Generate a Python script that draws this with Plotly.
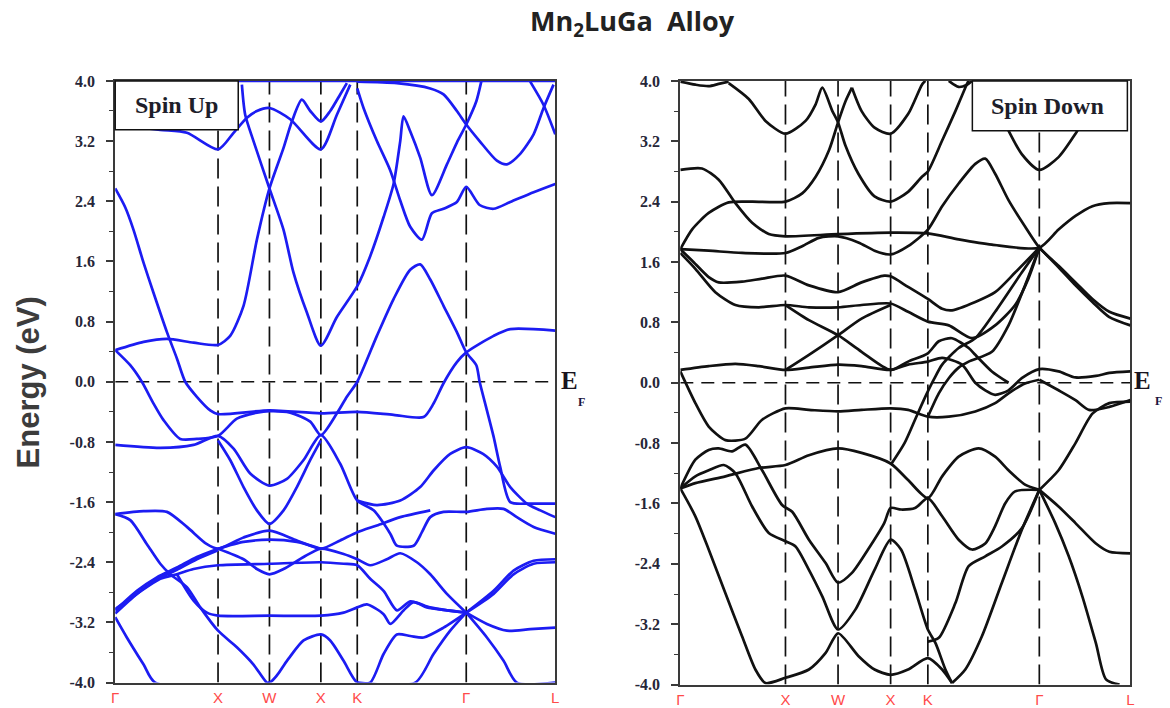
import plotly.graph_objects as go

# ---------------------------------------------------------------- axes data
K_POS = [0.0, 1.0, 1.5, 2.0, 2.354, 3.414, 4.28]
K_LAB = ["Γ", "X", "W", "X", "K", "Γ", "L"]
E_MAJOR = [-4.0, -3.2, -2.4, -1.6, -0.8, 0.0, 0.8, 1.6, 2.4, 3.2, 4.0]
E_MINOR = [-3.6, -2.8, -2.0, -1.2, -0.4, 0.4, 1.2, 2.0, 2.8, 3.6]
E_LAB = ["-4.0", "-3.2", "-2.4", "-1.6", "-0.8", "0.0", "0.8", "1.6", "2.4", "3.2", "4.0"]

# ---------------------------------------------------------- spin-up bands
up_top_k = [0.0, 4.28]
up_top_e = [4.0, 4.0]

up_01_k = [0, 0.276, 0.503, 0.762, 1.0, 1.118, 1.248, 1.378, 1.5, 1.637, 1.718, 1.815, 1.897, 2.0, 2.091, 2.188, 2.253]
up_01_e = [0.42, 0.53, 0.57, 0.52, 0.49, 0.61, 1.01, 1.89, 2.57, 3.11, 3.46, 3.75, 3.6, 3.46, 3.6, 3.82, 3.97]

up_02_k = [0, 0.097, 0.178, 0.276, 0.373, 0.503, 0.6, 0.681, 0.794, 0.924, 1.0, 1.5, 2.0, 2.354, 2.707, 2.999, 3.096, 3.193, 3.323, 3.414, 3.68, 3.842, 4.28]
up_02_e = [2.57, 2.32, 2.02, 1.58, 1.18, 0.66, 0.31, 0.0, -0.2, -0.38, -0.43, -0.38, -0.42, -0.40, -0.44, -0.47, -0.29, -0.02, 0.26, 0.39, 0.61, 0.70, 0.68]

up_03_k = [0, 0.146, 0.259, 0.373, 0.470, 0.632, 0.794, 1.0, 1.183, 1.378, 1.5, 1.702, 1.897, 2.0, 2.156, 2.253, 2.354, 2.545, 2.707, 2.869, 2.966, 3.064, 3.193, 3.323, 3.414, 3.512, 3.544, 3.615, 3.680, 3.744, 3.842, 4.036, 4.28]
up_03_e = [0.42, 0.22, 0.0, -0.29, -0.51, -0.76, -0.76, -0.72, -0.49, -0.41, -0.39, -0.41, -0.53, -0.71, -0.42, -0.2, 0.0, 0.61, 1.1, 1.49, 1.56, 1.36, 1.01, 0.66, 0.39, 0.22, 0.0, -0.38, -0.73, -1.13, -1.6, -1.62, -1.62]

up_04_k = [1.232, 1.264, 1.345, 1.5, 1.637, 1.734, 1.864, 2.0, 2.156, 2.354, 2.480, 2.610, 2.707, 2.772, 2.804, 2.869, 2.966, 3.080, 3.226, 3.323, 3.414, 3.512, 3.56]
up_04_e = [3.95, 3.55, 3.2, 2.57, 2.02, 1.45, 0.92, 0.48, 0.86, 1.27, 1.67, 2.19, 2.63, 3.2, 3.53, 3.33, 2.98, 2.48, 2.89, 3.18, 3.42, 3.73, 3.99]

up_05_k = [0, 0.438, 0.697, 1.0, 1.151, 1.281, 1.378, 1.5, 1.702, 2.0, 2.156, 2.286]
up_05_e = [3.42, 3.35, 3.31, 3.09, 3.31, 3.51, 3.6, 3.64, 3.49, 3.09, 3.55, 3.95]

up_06_k = [2.354, 2.415, 2.545, 2.675, 2.772, 2.869, 2.983, 3.080, 3.193, 3.323, 3.414, 3.544, 3.680, 3.842, 4.069, 4.28]
up_06_e = [3.9, 3.64, 3.2, 2.81, 2.41, 2.06, 1.89, 2.24, 2.3, 2.39, 2.59, 2.35, 2.3, 2.39, 2.52, 2.63]

up_07_k = [2.354, 2.739, 3.064, 3.193, 3.323, 3.414, 3.544, 3.712, 3.809, 3.939, 4.069, 4.166, 4.263]
up_07_e = [3.99, 3.97, 3.9, 3.82, 3.6, 3.42, 3.2, 2.94, 2.89, 3.03, 3.29, 3.64, 3.95]

up_08_k = [4.036, 4.166, 4.28]
up_08_e = [3.99, 3.68, 3.29]

up_09_k = [0, 0.438, 0.762, 1.0, 1.151, 1.313, 1.5, 1.67, 1.832, 2.0, 2.188, 2.354, 2.513, 2.675, 2.739, 2.902, 2.983, 3.064, 3.193, 3.414, 3.615, 3.777, 3.906, 4.069, 4.28]
up_09_e = [-0.84, -0.88, -0.84, -0.72, -0.89, -1.22, -1.38, -1.29, -1.04, -0.71, -1.09, -1.58, -1.71, -2.02, -2.18, -2.18, -2.0, -1.8, -1.73, -1.73, -1.69, -1.69, -1.8, -1.93, -2.02]

up_10_k = [2.354, 2.545, 2.772, 2.966, 3.096, 3.258, 3.414, 3.577, 3.712, 3.842, 4.004, 4.134, 4.28]
up_10_e = [-1.58, -1.64, -1.58, -1.4, -1.18, -0.96, -0.87, -0.96, -1.13, -1.4, -1.62, -1.71, -1.8]

up_11_k = [0, 0.276, 0.503, 0.697, 0.892, 1.0, 1.248, 1.5, 1.767, 2.0, 2.188, 2.354, 2.545, 2.772, 3.064]
up_11_e = [-1.76, -1.72, -1.73, -1.93, -2.16, -2.22, -2.07, -1.98, -2.11, -2.22, -2.11, -2.0, -1.91, -1.8, -1.71]

up_12_k = [1.0, 1.248, 1.378, 1.5, 1.637, 1.832, 2.0, 2.221, 2.354, 2.480, 2.642, 2.772, 2.934, 3.064, 3.226, 3.414]
up_12_e = [-2.22, -2.36, -2.49, -2.56, -2.49, -2.33, -2.22, -2.29, -2.36, -2.44, -2.36, -2.28, -2.4, -2.56, -2.82, -3.07]

up_13_k = [1.0, 1.118, 1.248, 1.378, 1.5, 1.637, 1.767, 1.897, 2.0]
up_13_e = [-0.78, -1.04, -1.4, -1.71, -1.89, -1.71, -1.4, -1.04, -0.78]

up_14_k = [1.0, 1.248, 1.5, 1.767, 2.0]
up_14_e = [-2.22, -2.13, -2.1, -2.13, -2.22]

up_15_k = [0, 0.211, 0.438, 0.6, 0.762, 1.0, 1.5, 2.0, 2.221, 2.354, 2.48, 2.61, 2.74, 2.87, 3.06, 3.23, 3.414]
up_15_e = [-3.02, -2.82, -2.62, -2.56, -2.49, -2.44, -2.42, -2.4, -2.42, -2.44, -2.62, -2.78, -3.04, -2.92, -3.0, -3.04, -3.07]

up_16_k = [0, 0.211, 0.405, 0.6, 0.794, 1.0]
up_16_e = [-3.04, -2.78, -2.6, -2.47, -2.33, -2.22]
up_16b_e = [-3.08, -2.82, -2.63, -2.5, -2.36, -2.24]

up_17_k = [0, 0.146, 0.308, 0.438, 0.535, 0.697, 0.827, 1.0, 1.183, 1.345, 1.475, 1.5]
up_17_e = [-1.76, -1.84, -2.16, -2.42, -2.56, -2.73, -3.0, -3.31, -3.53, -3.76, -4.0, -4.0]

up_18_k = [0.6, 0.762, 0.892, 1.0, 1.5, 2.0, 2.221, 2.354, 2.448, 2.61, 2.675, 2.804, 2.902, 3.031, 3.226, 3.414]
up_18_e = [-2.56, -2.91, -3.07, -3.11, -3.11, -3.11, -3.07, -3.0, -2.96, -3.09, -3.22, -3.04, -2.93, -3.0, -3.04, -3.07]

up_19_k = [0, 0.113, 0.276, 0.389, 1.5, 1.67, 1.832, 2.0, 2.091, 2.221, 2.354, 2.480, 2.610, 2.739, 2.869, 2.999, 3.193, 3.414]
up_19_e = [-3.13, -3.4, -3.76, -4.0, -4.0, -3.71, -3.44, -3.36, -3.44, -3.71, -4.0, -4.0, -3.62, -3.36, -3.38, -3.4, -3.27, -3.07]

up_20_k = [2.354, 2.918, 3.096, 3.258, 3.414]
up_20_e = [-4.0, -4.0, -3.62, -3.31, -3.07]

up_21_k = [3.414, 3.615, 3.777, 3.906, 4.28]
up_21_e = [-3.07, -3.4, -3.71, -4.0, -4.0]

up_22_k = [3.414, 3.68, 3.874, 4.069, 4.28]
up_22_e = [-3.07, -2.78, -2.51, -2.38, -2.36]
up_22b_e = [-3.07, -2.82, -2.56, -2.42, -2.4]

up_23_k = [3.414, 3.615, 3.809, 4.036, 4.28]
up_23_e = [-3.07, -3.22, -3.31, -3.29, -3.27]

# -------------------------------------------------------- spin-down bands
dn_01_k = [0, 0.143, 0.27, 0.365, 0.46]
dn_01_e = [3.99, 3.95, 3.93, 3.96, 3.99]

dn_02_k = [0.46, 0.651, 0.81, 1.0, 1.191, 1.287, 1.35, 1.446, 1.5, 1.571, 1.693, 1.847, 2.0, 2.166, 2.298, 2.354, 2.49, 2.616, 2.71, 2.74]
dn_02_e = [3.97, 3.76, 3.47, 3.3, 3.47, 3.69, 3.91, 3.6, 3.45, 3.14, 2.77, 2.47, 2.4, 2.53, 2.73, 2.8, 3.21, 3.6, 3.91, 4.0]

dn_03_k = [1.632, 1.724, 1.847, 2.0, 2.166, 2.298, 2.33]
dn_03_e = [3.91, 3.6, 3.38, 3.3, 3.56, 3.95, 4.0]

dn_04_k = [0, 0.111, 0.27, 0.46, 0.683, 1.0, 1.159, 1.287, 1.414, 1.5, 1.571, 1.632]
dn_04_e = [1.77, 2.03, 2.25, 2.39, 2.4, 2.4, 2.51, 2.73, 3.08, 3.45, 3.73, 3.91]

dn_05_k = [0, 0.206, 0.365, 0.524, 0.683, 0.841, 1.0, 1.5, 2.0, 2.354, 2.647, 2.963, 3.414, 3.597, 3.758, 3.919, 4.08, 4.28]
dn_05_e = [2.82, 2.84, 2.69, 2.38, 2.12, 1.97, 1.94, 1.97, 1.99, 1.98, 1.9, 1.83, 1.79, 2.03, 2.21, 2.34, 2.38, 2.38]

dn_06_k = [0, 0.27, 0.587, 1.0, 1.159, 1.318, 1.5, 1.693, 1.847, 2.0, 2.166, 2.354, 2.49, 2.647, 2.805, 2.9, 2.994, 3.121, 3.278, 3.414, 3.597, 3.758, 3.919, 4.08, 4.28]
dn_06_e = [1.77, 1.75, 1.72, 1.72, 1.81, 1.92, 1.94, 1.86, 1.75, 1.7, 1.81, 2.03, 2.34, 2.64, 2.9, 2.97, 2.77, 2.42, 2.07, 1.79, 1.55, 1.33, 1.11, 0.94, 0.85]

dn_06b_k = [3.414, 3.597, 3.758, 3.919, 4.08, 4.28]
dn_06b_e = [1.79, 1.53, 1.29, 1.07, 0.87, 0.76]

dn_07_k = [3.089, 3.247, 3.414, 3.597, 3.758, 3.855]
dn_07_e = [3.43, 3.03, 2.82, 2.99, 3.3, 3.52]

dn_08_k = [2.553, 2.647, 2.726, 2.774]
dn_08_e = [4.0, 3.92, 3.95, 4.0]

dn_09_k = [0, 0.111, 0.27, 0.365, 0.587, 0.778, 1.0, 1.223, 1.5, 1.724, 1.939, 2.0, 2.166, 2.354, 2.49, 2.584, 2.805, 2.994, 3.184, 3.414]
dn_09_e = [1.77, 1.62, 1.4, 1.33, 1.34, 1.38, 1.42, 1.29, 1.2, 1.33, 1.42, 1.41, 1.27, 1.11, 0.98, 0.96, 1.07, 1.2, 1.46, 1.79]

dn_10_k = [0, 0.143, 0.333, 0.524, 0.746, 1.0, 1.223, 1.5, 1.724, 2.0, 2.166, 2.354, 2.553, 2.774, 2.994, 3.184, 3.31, 3.414]
dn_10_e = [1.72, 1.51, 1.2, 1.03, 1.0, 1.03, 1.0, 1.0, 1.03, 1.05, 0.94, 0.81, 0.76, 0.59, 0.76, 1.03, 1.38, 1.79]

dn_11_k = [1.0, 1.223, 1.5, 1.724, 2.0, 2.166, 2.354, 2.458, 2.584, 2.742, 2.805, 2.963, 3.121]
dn_11_e = [1.03, 0.83, 0.63, 0.41, 0.17, 0.28, 0.39, 0.55, 0.59, 0.46, 0.37, 0.15, 0.0]

dn_12_k = [1.0, 1.223, 1.5, 1.724, 2.0]
dn_12_e = [0.17, 0.37, 0.63, 0.85, 1.03]

dn_13_k = [0, 0.27, 0.524, 0.746, 1.0, 1.223, 1.5, 1.724, 2.0, 2.166, 2.354, 2.49, 2.679, 2.805, 2.9, 2.994, 3.121, 3.247, 3.414, 3.597, 3.758, 3.952, 4.08, 4.28]
dn_13_e = [0.17, 0.22, 0.25, 0.22, 0.17, 0.2, 0.24, 0.22, 0.17, 0.24, 0.28, 0.33, 0.24, 0.0, -0.1, -0.16, -0.1, 0.06, 0.18, 0.15, 0.07, 0.09, 0.13, 0.15]

dn_14_k = [3.414, 3.597, 3.758, 3.887, 4.08, 4.28]
dn_14_e = [0.04, -0.1, -0.23, -0.36, -0.32, -0.23]

dn_15_k = [2.0, 2.132, 2.232, 2.315, 2.41, 2.49, 2.647, 2.805, 2.994, 3.247, 3.414]
dn_15_e = [-1.09, -0.8, -0.49, -0.23, 0.04, 0.24, 0.46, 0.59, 0.94, 1.46, 1.79]

dn_16_k = [2.354, 2.458, 2.553, 2.647, 2.742, 2.963, 3.121, 3.278, 3.414]
dn_16_e = [-0.45, -0.14, 0.06, 0.2, 0.28, 0.41, 0.76, 1.29, 1.79]

dn_17_k = [0, 0.143, 0.27, 0.365, 0.492, 0.619, 0.778, 0.968, 1.064, 1.223, 1.382, 1.5, 1.632, 1.785, 1.939, 2.0, 2.099, 2.232, 2.354, 2.49, 2.647, 2.774, 2.9, 2.994, 3.089, 3.184, 3.414]
dn_17_e = [-1.4, -1.02, -0.89, -0.87, -0.91, -0.82, -1.16, -1.62, -1.71, -2.08, -2.39, -2.65, -2.52, -2.21, -1.86, -1.66, -1.68, -1.66, -1.53, -1.77, -2.08, -2.21, -2.13, -1.9, -1.6, -1.44, -1.42]

dn_18_k = [0, 0.143, 0.27, 0.413, 0.524, 0.683, 0.841, 1.0, 1.096, 1.223, 1.35, 1.5, 1.663, 1.847, 2.0, 2.099, 2.232, 2.354, 2.427, 2.521, 2.584]
dn_18_e = [-1.4, -1.24, -1.16, -1.09, -1.2, -1.64, -1.99, -2.1, -2.17, -2.48, -2.83, -3.27, -3.01, -2.48, -2.08, -2.21, -2.74, -3.27, -3.45, -3.8, -3.98]

dn_19_k = [0, 0.143, 0.429, 0.746, 1.0, 1.223, 1.5, 1.724, 2.0, 2.166, 2.354, 2.49, 2.647, 2.837, 2.994, 3.121, 3.278, 3.414]
dn_19_e = [-1.4, -1.33, -1.24, -1.13, -1.09, -0.96, -0.87, -0.93, -1.07, -1.29, -1.53, -1.24, -0.98, -0.87, -0.98, -1.16, -1.35, -1.42]

dn_20_k = [0, 0.143, 0.27, 0.429, 0.587, 0.714, 0.81, 1.0, 1.223, 1.382, 1.5, 1.693, 1.847, 2.0, 2.166, 2.354, 2.49, 2.584]
dn_20_e = [-1.4, -1.77, -2.21, -2.79, -3.36, -3.8, -3.98, -3.91, -3.8, -3.58, -3.32, -3.62, -3.8, -3.87, -3.8, -3.65, -3.8, -3.98]

dn_21_k = [2.354, 2.458, 2.616, 2.742, 2.9, 3.058, 3.247, 3.414]
dn_21_e = [-3.43, -3.38, -2.92, -2.43, -2.3, -2.17, -1.93, -1.42]

dn_22_k = [2.584, 2.71, 2.868, 3.058, 3.247, 3.414]
dn_22_e = [-3.98, -3.8, -3.36, -2.65, -1.95, -1.42]

dn_23_k = [3.414, 3.597, 3.758, 3.952, 4.08, 4.28]
dn_23_e = [-1.42, -1.64, -1.86, -2.13, -2.24, -2.26]

dn_24_k = [3.414, 3.565, 3.694, 3.823, 3.952, 4.048, 4.177]
dn_24_e = [-1.42, -1.86, -2.3, -2.83, -3.45, -3.93, -4.0]

dn_25_k = [3.414, 3.597, 3.758, 3.919, 4.08, 4.28]
dn_25_e = [-1.42, -1.16, -0.8, -0.41, -0.27, -0.25]

dn_26_k = [0, 0.143, 0.27, 0.429, 0.619, 0.778, 1.0, 1.223, 1.5, 1.724, 2.0, 2.166, 2.354, 2.553, 2.805, 2.994, 3.121, 3.278, 3.414]
dn_26_e = [0.15, -0.27, -0.58, -0.76, -0.74, -0.49, -0.34, -0.36, -0.38, -0.36, -0.34, -0.36, -0.45, -0.45, -0.38, -0.27, -0.14, -0.01, 0.04]

UP_BANDS = [
    (up_top_k, up_top_e), (up_01_k, up_01_e), (up_02_k, up_02_e), (up_03_k, up_03_e),
    (up_04_k, up_04_e), (up_05_k, up_05_e), (up_06_k, up_06_e), (up_07_k, up_07_e),
    (up_08_k, up_08_e), (up_09_k, up_09_e), (up_10_k, up_10_e), (up_11_k, up_11_e),
    (up_12_k, up_12_e), (up_13_k, up_13_e), (up_14_k, up_14_e), (up_15_k, up_15_e),
    (up_16_k, up_16_e), (up_16_k, up_16b_e), (up_17_k, up_17_e), (up_18_k, up_18_e),
    (up_19_k, up_19_e), (up_20_k, up_20_e), (up_21_k, up_21_e), (up_22_k, up_22_e),
    (up_22_k, up_22b_e), (up_23_k, up_23_e),
]
DN_BANDS = [
    (dn_01_k, dn_01_e), (dn_02_k, dn_02_e), (dn_03_k, dn_03_e), (dn_04_k, dn_04_e),
    (dn_05_k, dn_05_e), (dn_06_k, dn_06_e), (dn_06b_k, dn_06b_e), (dn_07_k, dn_07_e),
    (dn_08_k, dn_08_e), (dn_09_k, dn_09_e), (dn_10_k, dn_10_e), (dn_11_k, dn_11_e),
    (dn_12_k, dn_12_e), (dn_13_k, dn_13_e), (dn_14_k, dn_14_e), (dn_15_k, dn_15_e),
    (dn_16_k, dn_16_e), (dn_17_k, dn_17_e), (dn_18_k, dn_18_e), (dn_19_k, dn_19_e),
    (dn_20_k, dn_20_e), (dn_21_k, dn_21_e), (dn_22_k, dn_22_e), (dn_23_k, dn_23_e),
    (dn_24_k, dn_24_e), (dn_25_k, dn_25_e), (dn_26_k, dn_26_e),
]

UP_COLOR = "#1c1cf2"
DN_COLOR = "#111111"
FRAME = "#3a3a3a"
TICK_FONT = dict(family="Liberation Serif", size=16, color="#262638", weight="bold")
K_FONT = dict(family="Liberation Sans", size=15, color="#ff4a4a")

W, H = 1170, 708
# the rendered page comes out slightly inset and scaled; these constants undo that
SX, OX = 0.993, 3.8
SY, OY = 0.9785, 7.7


def px(x):
    """screen pixel column -> paper fraction"""
    return ((x - OX) / SX) / W


def py(y):
    """screen pixel row -> paper fraction"""
    return 1 - ((y - OY) / SY) / H


fig = go.Figure()

for k, e in UP_BANDS:
    fig.add_trace(go.Scatter(x=k, y=e, mode="lines", xaxis="x", yaxis="y",
                             line=dict(color=UP_COLOR, width=2.7, shape="spline", smoothing=0.7),
                             hoverinfo="skip", showlegend=False))
for k, e in DN_BANDS:
    fig.add_trace(go.Scatter(x=k, y=e, mode="lines", xaxis="x2", yaxis="y2",
                             line=dict(color=DN_COLOR, width=2.7, shape="spline", smoothing=0.7),
                             hoverinfo="skip", showlegend=False))

# dashed guides at the high-symmetry points and at the Fermi level
shapes = []
for xr, yr in (("x", "y"), ("x2", "y2")):
    for kv in K_POS[1:-1]:
        shapes.append(dict(type="line", xref=xr, yref=yr, x0=kv, x1=kv, y0=-4.0, y1=4.0,
                           line=dict(color="#111111", width=1.7, dash="20px,8px"), layer="below"))
    shapes.append(dict(type="line", xref=xr, yref=yr, x0=0, x1=4.28, y0=0, y1=0,
                       line=dict(color="#111111", width=1.7, dash="13px,8px"), layer="below"))

# spin labels in framed boxes
shapes.append(dict(type="rect", xref="paper", yref="paper", x0=px(115), x1=px(238), y0=py(130), y1=py(81),
                   fillcolor="white", line=dict(color="#111111", width=1.5), layer="above"))
shapes.append(dict(type="rect", xref="paper", yref="paper", x0=px(972), x1=px(1127), y0=py(131), y1=py(81),
                   fillcolor="white", line=dict(color="#111111", width=1.5), layer="above"))


def note(text, x, y, font, **kw):
    return dict(text=text, x=px(x), y=py(y), xref="paper", yref="paper", showarrow=False,
                xanchor="center", yanchor="middle", font=font, **kw)


annotations = [
    note("Mn<sub>2</sub>LuGa  Alloy", 632, 22,
         dict(family="Open Sans", size=27, color="#222222", weight="bold")),
    note("Energy (eV)", 28, 384,
         dict(family="Liberation Sans", size=31, color="#3c3c3c", weight="bold"), textangle=-90),
    note("Spin Up", 176, 105,
         dict(family="Liberation Serif", size=24, color="#1e1e2a", weight="bold")),
    note("Spin Down", 1047, 106,
         dict(family="Liberation Serif", size=24, color="#1e1e2a", weight="bold")),
]
for ex, fx, fy in ((569, 581, 404), (1142, 1158, 403)):
    annotations.append(note("E", ex, 382, dict(family="Liberation Serif", size=25, color="#1a1420", weight="bold")))
    annotations.append(note("F", fx, fy, dict(family="Liberation Serif", size=12, color="#1a1440", weight="bold")))


def xaxis(domain, anchor):
    return dict(domain=domain, anchor=anchor, range=[0, 4.28], tickmode="array", tickvals=K_POS,
                ticktext=K_LAB, ticks="", tickfont=K_FONT, showline=True, mirror=True,
                linecolor=FRAME, linewidth=2.2, showgrid=False, zeroline=False, layer="below traces")


def yaxis(domain, anchor):
    return dict(domain=domain, anchor=anchor, range=[-4.0, 4.0], tickmode="array", tickvals=E_MAJOR,
                ticktext=E_LAB, ticks="outside", ticklen=7, tickwidth=1.5, tickcolor=FRAME,
                minor=dict(tickmode="array", tickvals=E_MINOR, ticks="outside", ticklen=4,
                           tickwidth=1.2, tickcolor=FRAME),
                tickfont=TICK_FONT, ticklabelstandoff=8, showline=True, mirror=True,
                linecolor=FRAME, linewidth=2.2, showgrid=False, zeroline=False, layer="below traces")


fig.update_layout(
    width=W, height=H, margin=dict(l=0, r=0, t=0, b=0),
    paper_bgcolor="white", plot_bgcolor="white",
    xaxis=xaxis([px(115), px(555)], "y"),
    yaxis=yaxis([py(686), py(81)], "x"),
    xaxis2=xaxis([px(680), px(1130)], "y2"),
    yaxis2=yaxis([py(688), py(81)], "x2"),
    shapes=shapes, annotations=annotations,
)

fig.write_html("out.html")
